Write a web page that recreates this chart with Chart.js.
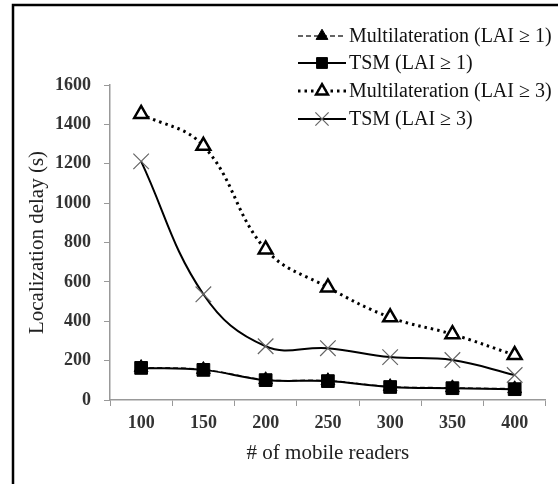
<!DOCTYPE html>
<html>
<head>
<meta charset="utf-8">
<script src="https://cdn.jsdelivr.net/npm/chart.js@4.4.0/dist/chart.umd.js"></script>
<style>
  html, body { margin: 0; padding: 0; background: #fff; }
  #wrap { width: 558px; height: 484px; position: relative; }
</style>
</head>
<body>
<div id="wrap"><canvas id="chart"></canvas></div>
<script>
// data
const readers = ['100', '150', '200', '250', '300', '350', '400'];
const multiLai1 = [165, 155, 103, 98, 68, 62, 57];
const tsmLai1 = [163, 153, 101, 96, 66, 60, 55];
const multiLai3 = [1453, 1291, 765, 572, 420, 334, 228];
const tsmLai3 = [1212, 537, 273, 263, 218, 203, 127];
const yTicks = [0, 200, 400, 600, 800, 1000, 1200, 1400, 1600];

const serif = "'Liberation Serif', 'Times New Roman', serif";

// frame around the whole figure plus a hand-made legend (line + marker + text)
const figurePlugin = {
    id: 'figure',
    beforeDraw(chart) {
        const ctx = chart.ctx;
        ctx.save();
        ctx.fillStyle = '#fff';
        ctx.fillRect(0, 0, chart.width, chart.height);
        ctx.restore();
    },
    afterDraw(chart) {
        const ctx = chart.ctx;
        ctx.save();
        ctx.strokeStyle = '#000';
        ctx.lineWidth = 2.5;
        ctx.strokeRect(13, 5, 600, 600);

        const rows = [36, 63, 91, 119];
        chart.data.datasets.forEach((ds, i) => {
            const y = rows[i];
            ctx.strokeStyle = ds.borderColor;
            ctx.lineWidth = ds.borderWidth;
            ctx.setLineDash(ds.borderDash || []);
            ctx.beginPath();
            ctx.moveTo(298, y);
            ctx.lineTo(346, y);
            ctx.stroke();
            ctx.setLineDash([]);
            ctx.fillStyle = ds.pointBackgroundColor;
            ctx.strokeStyle = ds.pointBorderColor;
            ctx.lineWidth = ds.pointBorderWidth;
            Chart.helpers.drawPoint(ctx, {
                pointStyle: ds.pointStyle,
                radius: ds.pointRadius * 0.85,
                borderWidth: ds.pointBorderWidth
            }, 322, y);
            ctx.fillStyle = '#111';
            ctx.font = '20px ' + serif;
            ctx.textBaseline = 'middle';
            ctx.fillText(ds.label, 349, y + 1);
        });
        ctx.restore();
    }
};

const ctx = document.getElementById('chart').getContext('2d');

new Chart(ctx, {
    type: 'line',
    data: {
        labels: readers,
        datasets: [
            {
                label: 'Multilateration (LAI \u2265 1)',
                data: multiLai1,
                borderColor: '#333',
                borderWidth: 1.5,
                borderDash: [5, 3],
                pointStyle: 'triangle',
                pointRadius: 8,
                pointBackgroundColor: '#000',
                pointBorderColor: '#000',
                pointBorderWidth: 1,
                tension: 0.4,
                order: 3
            },
            {
                label: 'TSM (LAI \u2265 1)',
                data: tsmLai1,
                borderColor: '#000',
                borderWidth: 2,
                pointStyle: 'rect',
                pointRadius: 9,
                pointBackgroundColor: '#000',
                pointBorderColor: '#000',
                pointBorderWidth: 1,
                tension: 0.4,
                order: 1
            },
            {
                label: 'Multilateration (LAI \u2265 3)',
                data: multiLai3,
                borderColor: '#000',
                borderWidth: 3,
                borderDash: [2.5, 4],
                pointStyle: 'triangle',
                pointRadius: 8,
                pointBackgroundColor: '#fff',
                pointBorderColor: '#000',
                pointBorderWidth: 2.5,
                tension: 0.4,
                order: 2
            },
            {
                label: 'TSM (LAI \u2265 3)',
                data: tsmLai3,
                borderColor: '#000',
                borderWidth: 2,
                pointStyle: 'crossRot',
                pointRadius: 11,
                pointBackgroundColor: '#666',
                pointBorderColor: '#666',
                pointBorderWidth: 1.2,
                tension: 0.4,
                order: 2
            }
        ]
    },
    options: {
        responsive: true,
        maintainAspectRatio: false,
        animation: false,
        layout: {
            padding: { left: 0, top: 85, right: 8, bottom: 0 }
        },
        plugins: {
            legend: { display: false },
            tooltip: { enabled: false }
        },
        scales: {
            x: {
                offset: true,
                afterFit(scale) { scale.height = 84; },
                grid: {
                    offset: true,
                    drawOnChartArea: false,
                    drawTicks: true,
                    tickLength: 6,
                    color: '#999'
                },
                border: { color: '#999', width: 1.5 },
                ticks: {
                    font: { family: serif, size: 18, weight: 'bold' },
                    color: '#333',
                    padding: 7,
                    maxRotation: 0
                },
                title: {
                    display: true,
                    text: '# of mobile readers',
                    font: { family: serif, size: 21 },
                    color: '#222',
                    padding: { top: 0, bottom: 18 }
                }
            },
            y: {
                min: 0,
                max: 1600,
                afterFit(scale) { scale.width = 110; },
                afterBuildTicks(scale) {
                    scale.ticks = yTicks.map(v => ({ value: v }));
                },
                grid: {
                    drawOnChartArea: false,
                    drawTicks: true,
                    tickLength: 6,
                    color: '#999'
                },
                border: { color: '#999', width: 1.5 },
                ticks: {
                    font: { family: serif, size: 18, weight: 'bold' },
                    color: '#333',
                    padding: 13,
                    callback: v => String(v)
                },
                title: {
                    display: true,
                    text: 'Localization delay (s)',
                    font: { family: serif, size: 21 },
                    color: '#222',
                    padding: { top: 25, bottom: 0 }
                }
            }
        }
    },
    plugins: [figurePlugin]
});
</script>
</body>
</html>
